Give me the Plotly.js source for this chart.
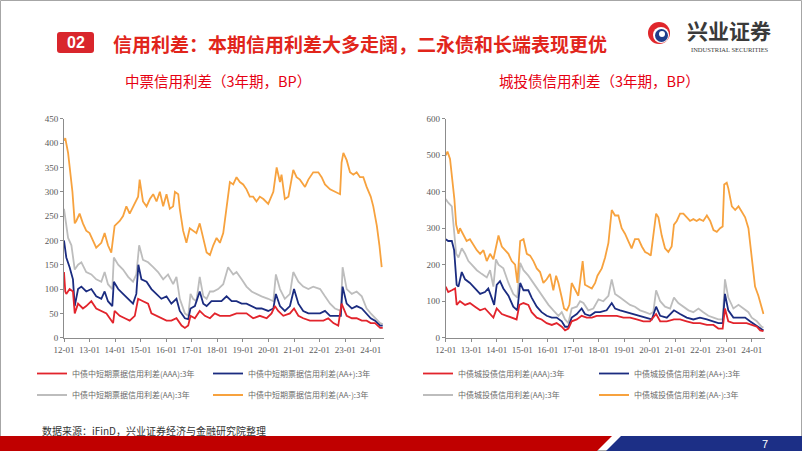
<!DOCTYPE html>
<html>
<head>
<meta charset="utf-8">
<script src="https://cdn.plot.ly/plotly-3.0.1.min.js"></script>
<style>html,body{margin:0;padding:0;background:#fff}#chart{width:802px;height:451px}</style>
</head>
<body>
<div id="chart"></div>
<script>
// ---------- DATA (decimal year, spread in BP) ----------
const yearTicks = [2012,2013,2014,2015,2016,2017,2018,2019,2020,2021,2022,2023,2024];
const yearTickText = ['12-01','13-01','14-01','15-01','16-01','17-01','18-01','19-01','20-01','21-01','22-01','23-01','24-01'];

const seriesNamesMTN = ['中债中短期票据信用利差(AAA):3年','中债中短期票据信用利差(AA+):3年','中债中短期票据信用利差(AA):3年','中债中短期票据信用利差(AA-):3年'];
const seriesNamesCity = ['中债城投债信用利差(AAA):3年','中债城投债信用利差(AA+):3年','中债城投债信用利差(AA):3年','中债城投债信用利差(AA-):3年'];

// 中票 (MTN)
const mtnAAA = [[2012.00,135],[2012.05,95],[2012.09,90],[2012.22,100],[2012.35,95],[2012.42,50],[2012.55,70],[2012.74,60],[2012.87,65],[2013.07,75],[2013.26,60],[2013.46,55],[2013.66,50],[2013.79,40],[2013.92,30],[2013.98,55],[2014.18,45],[2014.38,40],[2014.57,35],[2014.77,45],[2014.90,80],[2015.09,75],[2015.29,70],[2015.42,50],[2015.62,45],[2015.81,40],[2016.01,35],[2016.20,35],[2016.40,40],[2016.60,25],[2016.73,20],[2016.86,25],[2016.95,45],[2017.12,40],[2017.31,55],[2017.51,45],[2017.71,40],[2017.90,50],[2018.10,45],[2018.29,45],[2018.49,45],[2018.75,50],[2018.95,50],[2019.14,50],[2019.40,40],[2019.66,45],[2019.93,40],[2020.12,50],[2020.25,65],[2020.38,55],[2020.58,45],[2020.84,50],[2021.00,60],[2021.17,45],[2021.36,40],[2021.62,35],[2021.88,35],[2022.15,35],[2022.34,40],[2022.54,30],[2022.73,25],[2022.86,70],[2023.06,45],[2023.26,40],[2023.45,40],[2023.65,35],[2023.84,35],[2024.00,30],[2024.17,30],[2024.37,20],[2024.47,20]];
const mtnAAp = [[2012.00,200],[2012.05,175],[2012.09,165],[2012.22,145],[2012.35,120],[2012.42,65],[2012.55,100],[2012.68,105],[2012.87,95],[2013.07,100],[2013.26,85],[2013.46,80],[2013.59,95],[2013.72,75],[2013.89,65],[2013.95,115],[2014.12,100],[2014.31,90],[2014.51,80],[2014.70,70],[2014.83,90],[2014.91,150],[2015.03,120],[2015.23,115],[2015.42,100],[2015.62,90],[2015.81,80],[2016.01,85],[2016.20,70],[2016.40,80],[2016.53,55],[2016.73,40],[2016.86,38],[2016.95,60],[2017.12,65],[2017.31,95],[2017.45,70],[2017.58,65],[2017.77,75],[2017.97,75],[2018.16,75],[2018.36,85],[2018.56,75],[2018.75,75],[2018.95,70],[2019.14,70],[2019.34,65],[2019.53,60],[2019.73,60],[2019.99,55],[2020.19,60],[2020.29,90],[2020.45,65],[2020.64,55],[2020.84,65],[2021.00,100],[2021.17,70],[2021.36,55],[2021.56,50],[2021.75,50],[2022.02,50],[2022.21,55],[2022.41,45],[2022.60,45],[2022.83,45],[2022.90,105],[2023.06,70],[2023.26,60],[2023.45,65],[2023.65,60],[2023.84,50],[2024.00,40],[2024.17,35],[2024.37,25],[2024.47,25]];
const mtnAA = [[2012.00,265],[2012.09,230],[2012.16,205],[2012.29,190],[2012.42,140],[2012.55,150],[2012.68,155],[2012.87,135],[2013.07,130],[2013.26,120],[2013.46,115],[2013.59,135],[2013.72,110],[2013.89,100],[2013.95,165],[2014.12,150],[2014.31,140],[2014.51,125],[2014.70,115],[2014.83,130],[2014.94,190],[2015.09,160],[2015.29,155],[2015.49,145],[2015.68,135],[2015.88,120],[2016.07,130],[2016.27,110],[2016.40,125],[2016.53,80],[2016.73,50],[2016.86,45],[2016.95,90],[2017.05,80],[2017.18,75],[2017.31,125],[2017.45,85],[2017.58,80],[2017.71,95],[2017.84,95],[2018.03,100],[2018.23,110],[2018.42,145],[2018.62,130],[2018.75,135],[2018.95,120],[2019.14,105],[2019.34,95],[2019.53,90],[2019.73,85],[2019.99,80],[2020.19,75],[2020.29,130],[2020.45,100],[2020.64,80],[2020.84,90],[2020.97,135],[2021.17,115],[2021.36,105],[2021.56,100],[2021.75,105],[2022.02,100],[2022.21,85],[2022.41,70],[2022.60,60],[2022.83,55],[2022.90,145],[2023.06,100],[2023.26,90],[2023.45,95],[2023.65,85],[2023.84,60],[2024.00,50],[2024.17,40],[2024.37,30],[2024.47,28]];
const mtnAAm = [[2012.00,405],[2012.05,410],[2012.16,380],[2012.22,350],[2012.33,300],[2012.42,235],[2012.48,240],[2012.61,255],[2012.74,235],[2012.87,220],[2013.00,215],[2013.13,200],[2013.26,185],[2013.46,195],[2013.59,215],[2013.72,190],[2013.85,175],[2013.98,230],[2014.18,240],[2014.31,250],[2014.44,270],[2014.57,255],[2014.77,275],[2014.90,290],[2014.96,325],[2015.09,280],[2015.23,270],[2015.36,285],[2015.49,295],[2015.62,280],[2015.75,300],[2015.88,270],[2016.01,295],[2016.14,265],[2016.27,270],[2016.34,300],[2016.47,295],[2016.53,265],[2016.66,220],[2016.79,195],[2016.92,225],[2017.05,220],[2017.18,215],[2017.31,235],[2017.45,200],[2017.58,175],[2017.71,170],[2017.84,190],[2017.97,205],[2018.10,195],[2018.23,215],[2018.36,270],[2018.49,320],[2018.62,315],[2018.75,330],[2018.88,320],[2019.01,315],[2019.14,305],[2019.27,290],[2019.40,290],[2019.53,280],[2019.66,290],[2019.80,285],[2019.99,275],[2020.19,300],[2020.32,350],[2020.45,320],[2020.51,335],[2020.64,285],[2020.78,290],[2020.91,330],[2020.97,345],[2021.10,330],[2021.23,325],[2021.43,310],[2021.56,325],[2021.75,340],[2021.95,340],[2022.08,330],[2022.21,315],[2022.41,305],[2022.60,300],[2022.80,295],[2022.86,360],[2022.93,380],[2023.06,365],[2023.19,340],[2023.32,335],[2023.45,340],[2023.58,330],[2023.71,330],[2023.84,310],[2024.00,290],[2024.10,270],[2024.24,230],[2024.34,190],[2024.43,145]];

// 城投债 (LGFV)
const cityAAA = [[2012.00,140],[2012.10,125],[2012.24,130],[2012.37,135],[2012.43,90],[2012.56,100],[2012.76,90],[2012.95,95],[2013.15,85],[2013.35,75],[2013.54,80],[2013.74,65],[2013.87,55],[2014.00,80],[2014.20,65],[2014.39,60],[2014.59,55],[2014.78,50],[2014.89,90],[2015.05,95],[2015.24,90],[2015.37,70],[2015.57,55],[2015.76,50],[2015.96,40],[2016.16,35],[2016.35,40],[2016.55,30],[2016.68,20],[2016.81,25],[2016.94,45],[2017.14,50],[2017.33,60],[2017.53,55],[2017.73,55],[2017.92,60],[2018.12,60],[2018.31,60],[2018.51,60],[2018.71,60],[2018.97,55],[2019.23,55],[2019.49,50],[2019.75,45],[2020.01,45],[2020.25,65],[2020.41,45],[2020.67,45],[2020.95,50],[2021.19,50],[2021.45,45],[2021.71,40],[2021.97,40],[2022.24,35],[2022.50,35],[2022.69,25],[2022.86,25],[2022.95,80],[2023.08,45],[2023.28,40],[2023.54,40],[2023.80,40],[2024.00,35],[2024.20,30],[2024.33,20],[2024.46,18]];
const cityAAp = [[2012.00,270],[2012.10,265],[2012.24,265],[2012.33,240],[2012.43,145],[2012.50,140],[2012.63,180],[2012.76,160],[2012.95,150],[2013.15,135],[2013.35,120],[2013.54,125],[2013.67,135],[2013.80,110],[2013.90,90],[2014.00,145],[2014.13,155],[2014.26,135],[2014.46,115],[2014.65,85],[2014.81,75],[2014.92,150],[2015.05,130],[2015.24,130],[2015.37,110],[2015.57,85],[2015.76,70],[2015.96,60],[2016.16,55],[2016.35,55],[2016.55,45],[2016.68,30],[2016.81,30],[2016.94,55],[2017.14,65],[2017.33,80],[2017.46,65],[2017.66,60],[2017.86,70],[2018.05,70],[2018.31,75],[2018.51,95],[2018.64,80],[2018.84,75],[2019.10,70],[2019.36,65],[2019.62,60],[2019.88,55],[2020.08,50],[2020.25,85],[2020.41,60],[2020.67,55],[2020.95,75],[2021.19,65],[2021.45,55],[2021.71,50],[2021.97,55],[2022.24,50],[2022.50,45],[2022.69,40],[2022.86,40],[2022.95,120],[2023.08,75],[2023.28,55],[2023.54,55],[2023.74,55],[2023.93,45],[2024.13,35],[2024.33,25],[2024.46,20]];
const cityAA = [[2012.00,380],[2012.10,370],[2012.24,360],[2012.30,310],[2012.41,230],[2012.50,220],[2012.63,245],[2012.76,230],[2012.89,210],[2013.02,200],[2013.22,185],[2013.41,175],[2013.61,165],[2013.74,185],[2013.87,140],[2013.97,215],[2014.07,200],[2014.26,190],[2014.46,150],[2014.65,120],[2014.81,110],[2014.92,205],[2015.05,185],[2015.24,170],[2015.44,150],[2015.63,130],[2015.83,110],[2016.03,90],[2016.22,75],[2016.42,60],[2016.55,70],[2016.68,50],[2016.81,40],[2016.94,80],[2017.14,85],[2017.27,100],[2017.40,95],[2017.59,75],[2017.79,80],[2017.99,105],[2018.18,100],[2018.38,115],[2018.51,160],[2018.64,120],[2018.84,110],[2019.03,100],[2019.23,90],[2019.42,85],[2019.62,75],[2019.82,70],[2020.01,65],[2020.14,70],[2020.25,130],[2020.41,100],[2020.60,85],[2020.80,80],[2020.95,110],[2021.12,95],[2021.32,85],[2021.52,75],[2021.71,70],[2021.91,80],[2022.10,70],[2022.30,60],[2022.50,55],[2022.69,50],[2022.86,50],[2022.95,160],[2023.08,110],[2023.28,80],[2023.48,90],[2023.67,80],[2023.87,70],[2024.00,55],[2024.20,45],[2024.39,30],[2024.46,28]];
const cityAAm = [[2012.00,500],[2012.07,510],[2012.17,490],[2012.27,420],[2012.34,380],[2012.41,310],[2012.50,285],[2012.56,300],[2012.69,280],[2012.82,265],[2012.95,270],[2013.08,255],[2013.22,240],[2013.35,230],[2013.48,240],[2013.61,210],[2013.74,230],[2013.87,215],[2013.97,245],[2014.07,280],[2014.20,250],[2014.33,240],[2014.46,230],[2014.59,210],[2014.72,200],[2014.81,150],[2014.92,265],[2015.05,270],[2015.18,230],[2015.31,225],[2015.44,210],[2015.57,190],[2015.70,180],[2015.83,150],[2015.96,160],[2016.09,175],[2016.22,130],[2016.33,170],[2016.42,150],[2016.55,110],[2016.64,80],[2016.75,75],[2016.85,90],[2016.94,150],[2017.07,130],[2017.20,115],[2017.29,165],[2017.37,210],[2017.46,145],[2017.59,140],[2017.73,135],[2017.86,150],[2017.95,170],[2018.12,190],[2018.25,220],[2018.38,260],[2018.44,310],[2018.51,350],[2018.64,335],[2018.77,335],[2018.90,300],[2019.03,285],[2019.16,265],[2019.29,245],[2019.42,270],[2019.56,270],[2019.69,250],[2019.82,235],[2019.95,230],[2020.04,225],[2020.14,280],[2020.25,340],[2020.34,330],[2020.47,280],[2020.60,245],[2020.73,235],[2020.86,250],[2020.95,310],[2021.06,320],[2021.19,340],[2021.32,340],[2021.45,330],[2021.58,320],[2021.71,325],[2021.84,320],[2021.95,325],[2022.10,320],[2022.24,335],[2022.37,320],[2022.50,295],[2022.63,290],[2022.76,300],[2022.86,305],[2022.92,420],[2023.02,425],[2023.08,410],[2023.22,360],[2023.35,350],[2023.48,360],[2023.61,345],[2023.74,330],[2023.87,300],[2024.00,220],[2024.13,140],[2024.26,115],[2024.39,85],[2024.46,65]];

// ---------- STYLE ----------
const W = 802, H = 451;
const px = x => x / W;
const py = y => 1 - y / H;
const colors = {AAA:'#e2242c', AAp:'#1b2c80', AA:'#bdbdbd', AAm:'#f7a23e'};
const CJK = '"Noto Sans CJK SC", "Noto Sans", sans-serif';
const SERIF = '"Liberation Serif", "DejaVu Serif", serif';

function mk(data, name, color, xa, ya, legend, rank) {
  return {
    type:'scatter', mode:'lines', name:name,
    x:data.map(d=>d[0]), y:data.map(d=>d[1]),
    xaxis:xa, yaxis:ya, legend:legend, legendrank:rank,
    line:{color:color, width:1.8}, hoverinfo:'skip'
  };
}

const traces = [
  mk(mtnAA,  seriesNamesMTN[2], colors.AA,  'x','y','legend2',1),
  mk(mtnAAm, seriesNamesMTN[3], colors.AAm, 'x','y','legend2',2),
  mk(mtnAAp, seriesNamesMTN[1], colors.AAp, 'x','y','legend',2),
  mk(mtnAAA, seriesNamesMTN[0], colors.AAA, 'x','y','legend',1),
  mk(cityAA,  seriesNamesCity[2], colors.AA,  'x2','y2','legend4',1),
  mk(cityAAm, seriesNamesCity[3], colors.AAm, 'x2','y2','legend4',2),
  mk(cityAAp, seriesNamesCity[1], colors.AAp, 'x2','y2','legend3',2),
  mk(cityAAA, seriesNamesCity[0], colors.AAA, 'x2','y2','legend3',1)
];

const tickFont = {family:SERIF, size:9, color:'#595959'};
function xax(domain, anchor) {
  return {domain:domain, anchor:anchor, range:[2012,2024.5], tickmode:'array', tickvals:yearTicks, ticktext:yearTickText,
    tickangle:0, showline:true, linecolor:'#8c8c8c', linewidth:1, ticks:'outside', ticklen:3, tickcolor:'#8c8c8c',
    showgrid:false, zeroline:false, tickfont:tickFont, fixedrange:true};
}
function yax(domain, max, step, anchor) {
  return {domain:domain, range:[0,max], dtick:step, tick0:0, anchor:anchor,
    showline:true, linecolor:'#8c8c8c', linewidth:1, ticks:'outside', ticklen:3, tickcolor:'#8c8c8c',
    showgrid:false, zeroline:false, tickfont:tickFont, fixedrange:true};
}
const yDom = [py(337.7), py(118.8)];
const legFont = {family:CJK, size:8, color:'#6a6a6a'};
function leg(xp, yp) {
  return {orientation:'h', x:px(xp), y:py(yp), xanchor:'left', yanchor:'middle',
    bgcolor:'rgba(0,0,0,0)', font:legFont, itemwidth:30, entrywidth:131, entrywidthmode:'pixels',
    traceorder:'normal', itemclick:false, itemdoubleclick:false};
}

const shapes = [
  // slide frame
  {type:'rect', xref:'paper', yref:'paper', x0:px(0.5), x1:px(801.5), y0:py(450.5), y1:py(0.5), line:{color:'#a6a6a6', width:1}},
  // "02" badge
  {type:'path', xref:'paper', yref:'paper', fillcolor:'#d9262c', line:{width:0},
   path:`M ${px(60)} ${py(32)} L ${px(91)} ${py(32)} Q ${px(94)} ${py(32)} ${px(94)} ${py(35)} L ${px(94)} ${py(50)} Q ${px(94)} ${py(53)} ${px(91)} ${py(53)} L ${px(60)} ${py(53)} Q ${px(57)} ${py(53)} ${px(57)} ${py(50)} L ${px(57)} ${py(35)} Q ${px(57)} ${py(32)} ${px(60)} ${py(32)} Z`},
  // logo swirl (approximation)
  {type:'circle', xref:'paper', yref:'paper', x0:px(648), x1:px(670), y0:py(44), y1:py(22), fillcolor:'#e0262b', line:{width:0}},
  {type:'circle', xref:'paper', yref:'paper', x0:px(653), x1:px(669), y0:py(43), y1:py(27), fillcolor:'#ffffff', line:{width:0}},
  {type:'circle', xref:'paper', yref:'paper', x0:px(655), x1:px(668), y0:py(42), y1:py(29), fillcolor:'#1f3d8a', line:{width:0}},
  {type:'circle', xref:'paper', yref:'paper', x0:px(659), x1:px(665), y0:py(37), y1:py(31), fillcolor:'#ffffff', line:{width:0}},
  // footer bars
  {type:'path', xref:'paper', yref:'paper', fillcolor:'#c00000', line:{width:0},
   path:`M ${px(0)} ${py(436)} L ${px(612)} ${py(436)} L ${px(597)} ${py(451)} L ${px(0)} ${py(451)} Z`},
  {type:'path', xref:'paper', yref:'paper', fillcolor:'#1c2f86', line:{width:0},
   path:`M ${px(621)} ${py(436)} L ${px(802)} ${py(436)} L ${px(802)} ${py(451)} L ${px(606)} ${py(451)} Z`}
];

const annotations = [
  {text:'02', x:px(75.5), y:py(42.5), xref:'paper', yref:'paper', showarrow:false, xanchor:'center', yanchor:'middle',
   font:{family:'"Liberation Sans", Arial, sans-serif', size:16, color:'#ffffff', weight:700}},
  {text:'信用利差：本期信用利差大多走阔，二永债和长端表现更优', x:px(111), y:py(43), xref:'paper', yref:'paper', showarrow:false,
   xanchor:'left', yanchor:'middle', font:{family:CJK, size:19, color:'#e1251b', weight:700}},
  {text:'兴业证券', x:px(729), y:py(30), xref:'paper', yref:'paper', showarrow:false, xanchor:'center', yanchor:'middle',
   font:{family:'"Noto Sans CJK SC", serif', size:21, color:'#3a3a3a', weight:700}},
  {text:'INDUSTRIAL SECURITIES', x:px(730), y:py(49.5), xref:'paper', yref:'paper', showarrow:false, xanchor:'center', yanchor:'middle',
   font:{family:SERIF, size:6.5, color:'#3a3a3a'}},
  {text:'中票信用利差（3年期，BP）', x:px(217.5), y:py(81), xref:'paper', yref:'paper', showarrow:false, xanchor:'center', yanchor:'middle',
   font:{family:CJK, size:14.5, color:'#e60012'}},
  {text:'城投债信用利差（3年期，BP）', x:px(599), y:py(81), xref:'paper', yref:'paper', showarrow:false, xanchor:'center', yanchor:'middle',
   font:{family:CJK, size:14.5, color:'#e60012'}},
  {text:'数据来源：iFinD，兴业证券经济与金融研究院整理', x:px(40), y:py(430), xref:'paper', yref:'paper', showarrow:false,
   xanchor:'left', yanchor:'middle', font:{family:CJK, size:10, color:'#333333'}},
  {text:'7', x:px(765), y:py(443.5), xref:'paper', yref:'paper', showarrow:false, xanchor:'center', yanchor:'middle',
   font:{family:'"Liberation Sans", Arial, sans-serif', size:11, color:'#ffffff'}}
];

const layout = {
  width:W, height:H, autosize:false, margin:{l:0,r:0,t:0,b:0,pad:0,autoexpand:false},
  paper_bgcolor:'#ffffff', plot_bgcolor:'rgba(0,0,0,0)', showlegend:true, hovermode:false,
  xaxis: xax([px(64), px(383.5)], 'y'),
  yaxis: yax(yDom, 450, 50, 'x'),
  xaxis2: xax([px(445.7), px(764.5)], 'y2'),
  yaxis2: yax(yDom, 600, 100, 'x2'),
  legend: leg(32, 373.5),
  legend2: leg(32, 395),
  legend3: leg(418, 373.5),
  legend4: leg(418, 395),
  shapes: shapes,
  annotations: annotations
};

Plotly.newPlot('chart', traces, layout, {staticPlot:true, displayModeBar:false});
</script>
</body>
</html>
